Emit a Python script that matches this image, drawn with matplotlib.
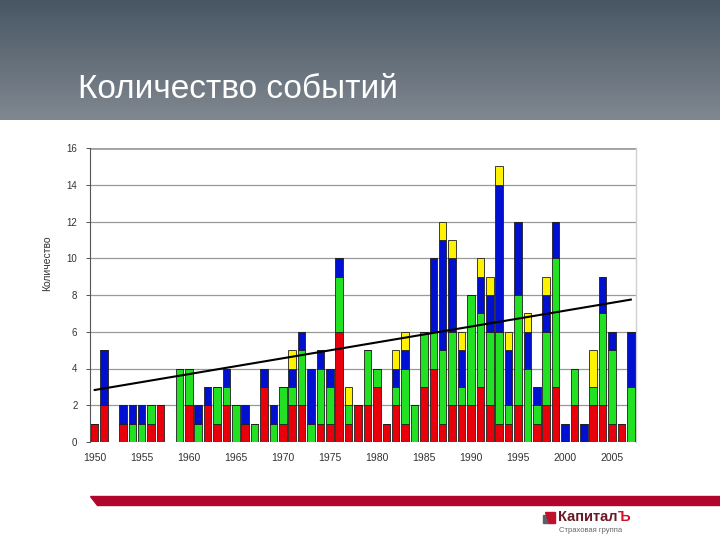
import numpy as np
import matplotlib
matplotlib.use('Agg')
import matplotlib.pyplot as plt
from matplotlib.patches import Polygon, Rectangle

plt.rcParams['font.family'] = ['Liberation Sans', 'DejaVu Sans']

# Data (number of events per year, by category)
years = list(range(1950, 2008))
red = [1, 2, 0, 1, 0, 0, 1, 2, 0, 0,
       2, 0, 2, 1, 2, 0, 1, 0, 3, 0,
       1, 2, 2, 0, 1, 1, 6, 1, 2, 2,
       3, 1, 2, 1, 0, 3, 4, 1, 2, 2,
       2, 3, 2, 1, 1, 2, 0, 1, 2, 3,
       0, 2, 0, 2, 2, 1, 1, 0]
green = [0, 0, 0, 0, 1, 1, 1, 0, 0, 4,
         2, 1, 0, 2, 1, 2, 0, 1, 0, 1,
         2, 1, 3, 1, 3, 2, 3, 1, 0, 3,
         1, 0, 1, 3, 2, 3, 2, 4, 4, 1,
         6, 4, 4, 5, 1, 6, 4, 1, 4, 7,
         0, 2, 0, 1, 5, 4, 0, 3]
blue = [0, 3, 0, 1, 1, 1, 0, 0, 0, 0,
        0, 1, 1, 0, 1, 0, 1, 0, 1, 1,
        0, 1, 1, 3, 1, 1, 1, 0, 0, 0,
        0, 0, 1, 1, 0, 0, 4, 6, 4, 2,
        0, 2, 2, 8, 3, 4, 2, 1, 2, 2,
        1, 0, 1, 0, 2, 1, 0, 3]
yellow = [0, 0, 0, 0, 0, 0, 0, 0, 0, 0,
          0, 0, 0, 0, 0, 0, 0, 0, 0, 0,
          0, 1, 0, 0, 0, 0, 0, 1, 0, 0,
          0, 0, 1, 1, 0, 0, 0, 1, 1, 1,
          0, 1, 1, 1, 1, 0, 1, 0, 1, 0,
          0, 0, 0, 2, 0, 0, 0, 0]
trend_years = [1950, 2007]
trend_values = [2.83, 7.75]

title = 'Количество событий'
ylabel = 'Количество'
yticks = list(range(0, 17, 2))
xticks = list(range(1950, 2006, 5))

fig = plt.figure(figsize=(7.2, 5.4), dpi=100)
fig.patch.set_facecolor('white')

# header band with gradient
hdr = fig.add_axes([0, 1 - 120 / 540, 1, 120 / 540])
grad = np.linspace(0, 1, 256).reshape(-1, 1)
top = np.array([0x48, 0x56, 0x64]) / 255
bot = np.array([0x80, 0x88, 0x90]) / 255
img = top + (bot - top) * grad[:, :, None]
hdr.imshow(img, aspect='auto', extent=[0, 1, 0, 1])
hdr.set_axis_off()
fig.text(78 / 720, 1 - 90 / 540, title, color='white', fontsize=24,
         va='center', ha='left')

# main chart
ax = fig.add_axes([90 / 720, 1 - 442 / 540, (636 - 90) / 720, (442 - 148) / 540])
x = np.array(years)
r = np.array(red)
g = np.array(green)
b = np.array(blue)
yl = np.array(yellow)
w = 0.8
kw = dict(width=w, edgecolor='#202020', linewidth=0.6, zorder=3)
ax.bar(x, r, color='#e8000a', **kw)
ax.bar(x, g, bottom=r, color='#22e022', **kw)
ax.bar(x, b, bottom=r + g, color='#0010d0', **kw)
ax.bar(x, yl, bottom=r + g + b, color='#fff200', **kw)
ax.plot(trend_years, trend_values, color='black', lw=1.5, zorder=4)

ax.set_xlim(1949.5, 2007.55)
ax.set_ylim(0, 16)
ax.set_yticks(yticks)
ax.set_xticks(xticks)
ax.tick_params(axis='y', labelsize=7, colors='#333333', length=3, width=0.6, pad=6)
ax.tick_params(axis='x', labelsize=7.5, colors='#333333', length=0, pad=8)
for t in yticks[1:-1]:
    ax.axhline(t, color='#999999', lw=0.9, zorder=1)
ax.axhline(16, color='#a0a0a0', lw=2, zorder=1)
for s in ['top', 'bottom']:
    ax.spines[s].set_visible(False)
ax.spines['left'].set_color('#555555')
ax.spines['left'].set_linewidth(0.8)
ax.spines['right'].set_color('#d0d0d0')
ax.spines['right'].set_linewidth(1)
fig.text(47 / 720, 1 - 263 / 540, ylabel, rotation=90, fontsize=7.5,
         color='#333333', ha='center', va='center')

# footer band
band = Polygon([[90 / 720, 1 - 496 / 540], [720 / 720, 1 - 496 / 540],
                [720 / 720, 1 - 505 / 540], [97 / 720, 1 - 505 / 540]],
               closed=True, transform=fig.transFigure, color='#b0062c')
fig.patches.append(band)

# logo
fig.patches.append(Rectangle((543 / 720, 1 - 523 / 540), 6 / 720, 8 / 540,
                             transform=fig.transFigure, color='#5a6068'))
fig.patches.append(Polygon([[549 / 720, 1 - 523 / 540], [555 / 720, 1 - 523 / 540],
                            [555 / 720, 1 - 512 / 540], [545 / 720, 1 - 512 / 540]],
                           closed=True, transform=fig.transFigure, color='#c0102c'))
logo = fig.text(558 / 720, 1 - 517 / 540, 'Капитал', fontsize=10.5, fontweight='bold',
                color='#6a1a26', ha='left', va='center')
ax.annotate('Ъ', xy=(1, 0.5), xycoords=logo, xytext=(0.5, 0),
            textcoords='offset points', fontsize=10.5, fontweight='bold',
            color='#d0102c', ha='left', va='center', annotation_clip=False)
fig.text(559 / 720, 1 - 531 / 540, 'Страховая группа', fontsize=5.5,
         color='#666666', ha='left', va='center')

fig.savefig('out.png', dpi=100)
